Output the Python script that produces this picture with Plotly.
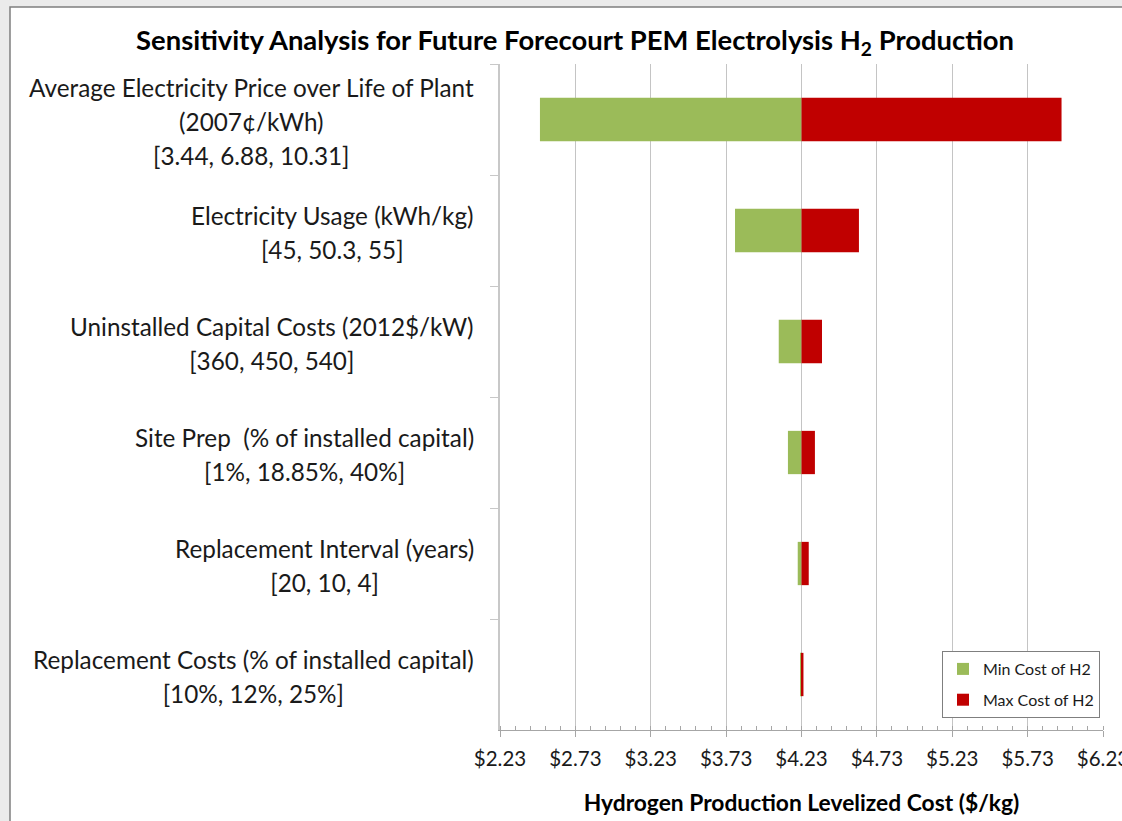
import plotly.graph_objects as go

# ---- data ----
categories = [
    "Average Electricity Price over Life of Plant",
    "Electricity Usage (kWh/kg)",
    "Uninstalled Capital Costs (2012$/kW)",
    "Site Prep  (% of installed capital)",
    "Replacement Interval (years)",
    "Replacement Costs (% of installed capital)",
]
label_lines = [
    ["Average Electricity Price over Life of Plant", "(2007¢/kWh)", "[3.44, 6.88, 10.31]"],
    ["Electricity Usage (kWh/kg)", "[45, 50.3, 55]"],
    ["Uninstalled Capital Costs (2012$/kW)", "[360, 450, 540]"],
    ["Site Prep  (% of installed capital)", "[1%, 18.85%, 40%]"],
    ["Replacement Interval (years)", "[20, 10, 4]"],
    ["Replacement Costs (% of installed capital)", "[10%, 12%, 25%]"],
]
base_cost = 4.23
min_cost = [2.495, 3.789, 4.079, 4.140, 4.205, 4.226]
max_cost = [5.955, 4.611, 4.366, 4.319, 4.278, 4.243]
tick_vals = [2.23, 2.73, 3.23, 3.73, 4.23, 4.73, 5.23, 5.73, 6.23]
tick_text = ["$2.23", "$2.73", "$3.23", "$3.73", "$4.23", "$4.73", "$5.23", "$5.73", "$6.23"]

FONT = "Lato"
GREEN = "#9BBB59"
RED = "#C00000"

fig = go.Figure()
fig.add_trace(go.Bar(
    y=categories, x=[base_cost - v for v in min_cost], base=min_cost,
    orientation="h", name="Min Cost of H2", marker=dict(color=GREEN, line=dict(width=0)),
    legendgroup="min",
))
fig.add_trace(go.Bar(
    y=categories, x=[v - base_cost for v in max_cost], base=[base_cost] * len(max_cost),
    orientation="h", name="Max Cost of H2", marker=dict(color=RED, line=dict(width=0)),
    legendgroup="max",
))

# category labels (centered lines, block right-aligned near the axis)
for cat, lines in zip(categories, label_lines):
    txt = "<br>".join(f"<span style='font-size:24.3px'>{l}</span>" for l in lines)
    fig.add_annotation(
        xref="paper", yref="y", x=0, y=cat, xshift=-24, yshift=-2, xanchor="right",
        yanchor="middle", align="center", showarrow=False, text=txt,
        font=dict(family=FONT, size=26.2, color="#1a1a1a"),
    )

# outer frame
fig.add_shape(type="rect", xref="paper", yref="paper", x0=-0.8126, x1=1.06,
              y0=-0.2, y1=1.0856, layer="below", fillcolor="white",
              line=dict(color="#7f7f7f", width=1.5))

fig.update_layout(
    width=1122, height=821,
    margin=dict(l=500, r=19, t=64, b=91, autoexpand=False),
    paper_bgcolor="#ebebeb", plot_bgcolor="rgba(0,0,0,0)",
    barmode="overlay", bargap=0.61,
    font=dict(family=FONT, color="#1a1a1a"),
    title=dict(text="<b>Sensitivity Analysis for Future Forecourt PEM Electrolysis H<sub>2</sub> Production</b>",
               x=0.5125, xanchor="center", y=0.951, yanchor="middle",
               font=dict(family=FONT, size=27.4, color="#000000")),
    legend=dict(x=0.995, xanchor="right", y=0.018, yanchor="bottom",
                bgcolor="white", bordercolor="#7f7f7f", borderwidth=1,
                font=dict(family=FONT, size=16, color="#1a1a1a"),
                traceorder="grouped", tracegroupgap=7, itemwidth=30),
    xaxis=dict(range=[2.23, 6.23], tickvals=tick_vals, ticktext=tick_text,
               automargin=False,
               showgrid=True, gridcolor="#c4c4c4", gridwidth=1,
               showline=True, linecolor="#a6a6a6", linewidth=1,
               ticks="outside", ticklen=6, tickcolor="#a6a6a6",
               minor=dict(ticks="inside", dtick=0.1, tick0=2.23, ticklen=4,
                          tickcolor="#a6a6a6", showgrid=False),
               tickfont=dict(family=FONT, size=20.5, color="#1a1a1a"),
               ticklabeloverflow="allow", ticklabelstandoff=4,
               zeroline=False,
               title=dict(text="<b>Hydrogen Production Levelized Cost ($/kg)</b>",
                          font=dict(family=FONT, size=22.8, color="#000000"), standoff=26)),
    yaxis=dict(autorange="reversed", showticklabels=False, showgrid=False,
               automargin=False,
               showline=True, linecolor="#c8c8c8", linewidth=1.5,
               ticks="outside", ticklen=8, tickcolor="#c8c8c8", tickson="boundaries"),
)

fig.write_html("out.html", config={"displayModeBar": False},
               post_script="document.body.style.margin='0';document.body.style.overflow='hidden';")
